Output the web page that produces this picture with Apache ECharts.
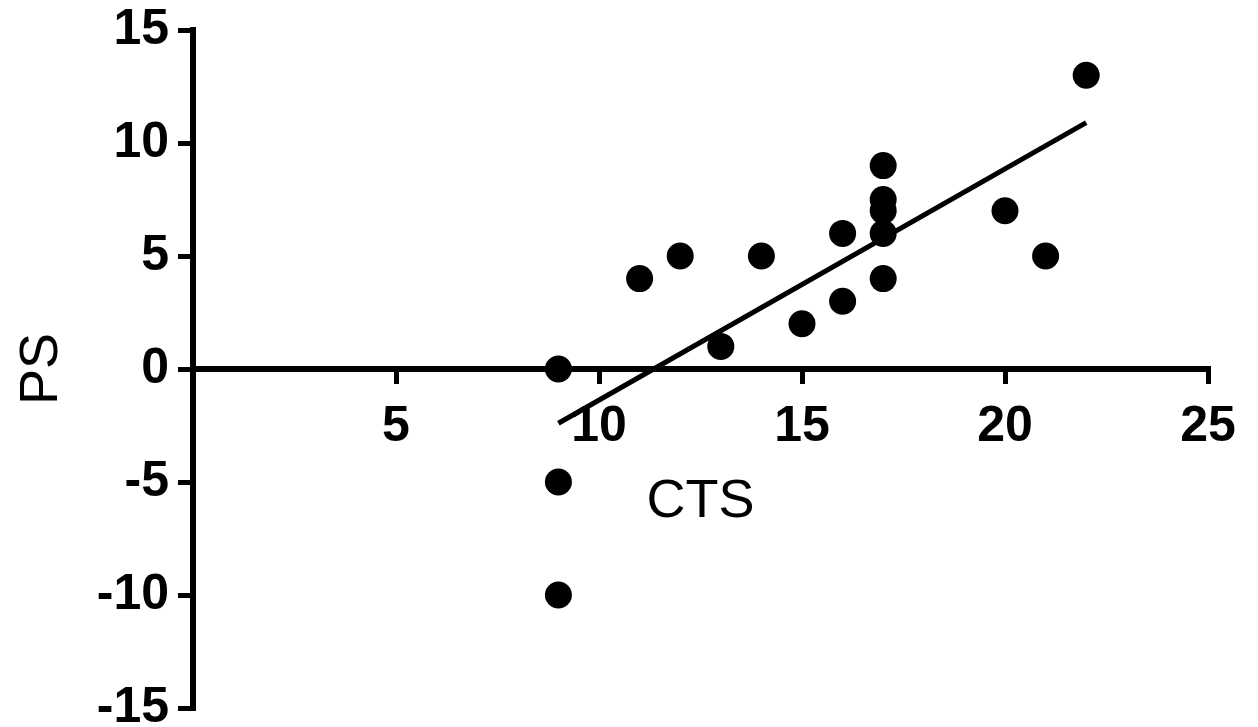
<!DOCTYPE html>
<html>
<head>
<meta charset="utf-8">
<script src="https://cdn.jsdelivr.net/npm/echarts@6/dist/echarts.min.js"></script>
<style>
html,body{margin:0;padding:0;background:#fff;}
#chart{width:1258px;height:727px;}
</style>
</head>
<body>
<div id="chart"></div>
<script>
// Data
var ctsValues = [9, 9, 9, 11, 12, 13, 14, 15, 16, 16, 17, 17, 17, 17, 17, 20, 21, 22];
var psValues  = [0, -5, -10, 4, 5, 1, 5, 2, 6, 3, 9, 7.5, 7, 6, 4, 7, 5, 13];
var fitX = [9, 22];
var fitY = [-2.4, 10.9];
var xTicks = [5, 10, 15, 20, 25];
var yTicks = [-15, -10, -5, 0, 5, 10, 15];

var points = ctsValues.map(function (x, i) { return [x, psValues[i]]; });
var fit = fitX.map(function (x, i) { return [x, fitY[i]]; });

var gridTop = 30, gridBottom = 19, H = 727;
var yMin = -15, yMax = 15;
// offset that moves the x axis up to y = 0
var plotH = H - gridTop - gridBottom;
var zeroOffset = -plotH * (0 - yMin) / (yMax - yMin);

var chart = echarts.init(document.getElementById('chart'));
var font = 'Liberation Sans, Arial, Helvetica, sans-serif';
chart.setOption({
  backgroundColor: '#fff',
  animation: false,
  grid: { left: 193, right: 50, top: gridTop, bottom: gridBottom, containLabel: false, outerBoundsMode: 'none' },
  xAxis: {
    type: 'value', min: 0, max: 25, interval: 5,
    position: 'bottom', offset: zeroOffset,
    name: 'CTS', nameLocation: 'middle', nameGap: 106,
    nameTextStyle: { fontFamily: font, fontSize: 54, color: '#000' },
    axisLine: { onZero: false, lineStyle: { color: '#000', width: 6, cap: 'square' } },
    axisTick: { show: true, inside: false, length: 15, lineStyle: { color: '#000', width: 5 } },
    axisLabel: {
      fontFamily: font, fontWeight: 'bold', fontSize: 50, color: '#000', margin: 33,
      formatter: function (v) { return xTicks.indexOf(v) >= 0 ? String(v) : ''; }
    },
    splitLine: { show: false }
  },
  yAxis: {
    type: 'value', min: yMin, max: yMax, interval: 5,
    name: 'PS', nameLocation: 'middle', nameGap: 124, nameRotate: 90,
    nameTextStyle: { fontFamily: font, fontSize: 54, color: '#000' },
    axisLine: { onZero: false, lineStyle: { color: '#000', width: 6, cap: 'square' } },
    axisTick: { show: true, inside: false, length: 15, lineStyle: { color: '#000', width: 5 } },
    axisLabel: {
      fontFamily: font, fontWeight: 'bold', fontSize: 50, color: '#000', margin: 24,
      formatter: function (v) { return yTicks.indexOf(v) >= 0 ? String(v) : ''; }
    },
    splitLine: { show: false }
  },
  series: [
    {
      type: 'line', data: fit, showSymbol: false, symbol: 'none',
      lineStyle: { color: '#000', width: 5 }, z: 2
    },
    {
      type: 'scatter', data: points, symbol: 'circle', symbolSize: 27,
      itemStyle: { color: '#000', opacity: 1 }, z: 3
    }
  ]
});
</script>
</body>
</html>
